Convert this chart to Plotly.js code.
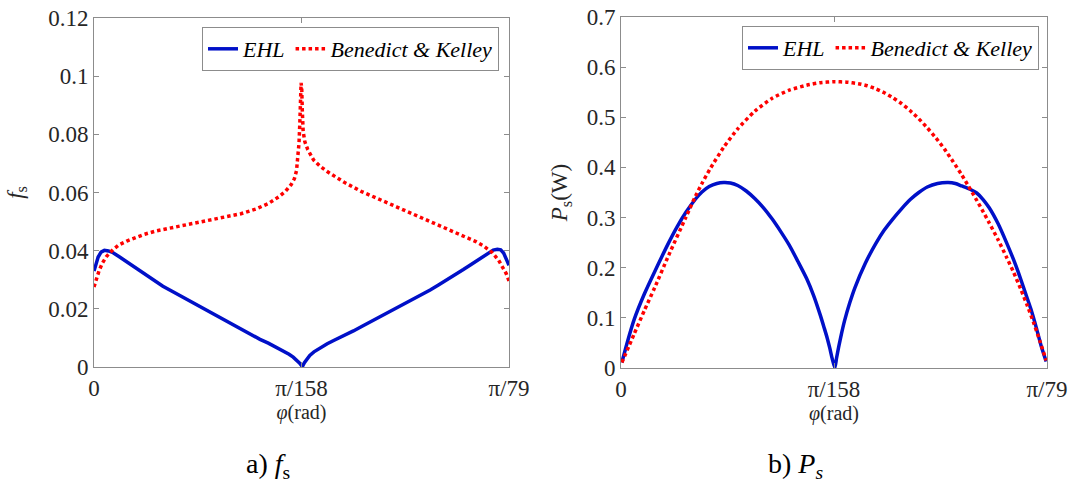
<!DOCTYPE html>
<html>
<head>
<meta charset="utf-8">
<script src="https://cdn.plot.ly/plotly-3.0.1.min.js"></script>
<style>html,body{margin:0;padding:0;background:#fff;}#chart{width:1071px;height:486px;}</style>
</head>
<body>
<div id="chart"></div>
<script>
// x positions as fraction of the range 0 .. π/79
const xTickVals = [0, 0.5, 1];
const xTickText = ['0', 'π/158', 'π/79'];

// (a) f_s
const fsEhlX = [0, 0.005, 0.01, 0.017, 0.025, 0.035, 0.046, 0.06, 0.079, 0.104, 0.125, 0.146, 0.166, 0.187, 0.21, 0.23, 0.25, 0.27, 0.29, 0.31, 0.33, 0.354, 0.375, 0.40, 0.42, 0.437, 0.455, 0.47, 0.48, 0.488, 0.495, 0.500, 0.503, 0.507, 0.513, 0.52, 0.53, 0.545, 0.562, 0.58, 0.603, 0.625, 0.645, 0.665, 0.686, 0.71, 0.73, 0.75, 0.77, 0.79, 0.81, 0.83, 0.853, 0.87, 0.89, 0.905, 0.919, 0.935, 0.95, 0.962, 0.972, 0.98, 0.987, 0.993, 0.998, 1];
const fsEhlY = [0.0330, 0.0355, 0.0378, 0.0395, 0.0401, 0.0399, 0.0393, 0.0380, 0.0362, 0.0336, 0.0315, 0.0296, 0.0278, 0.0261, 0.0243, 0.0228, 0.0213, 0.0198, 0.0182, 0.0165, 0.0149, 0.0129, 0.0113, 0.0095, 0.0082, 0.0070, 0.0057, 0.0044, 0.0034, 0.0025, 0.0014, 0.0005, 0.0004, 0.0015, 0.0029, 0.0040, 0.0052, 0.0066, 0.0080, 0.0093, 0.0108, 0.0124, 0.0139, 0.0154, 0.0170, 0.0187, 0.0202, 0.0217, 0.0233, 0.0249, 0.0265, 0.0282, 0.0301, 0.0317, 0.0335, 0.0349, 0.0362, 0.0378, 0.0393, 0.0402, 0.0405, 0.0403, 0.0392, 0.0375, 0.0358, 0.0350];
const fsBkX = [0, 0.005, 0.012, 0.02, 0.03, 0.046, 0.06, 0.079, 0.1, 0.121, 0.15, 0.187, 0.23, 0.27, 0.31, 0.354, 0.39, 0.42, 0.445, 0.462, 0.475, 0.483, 0.488, 0.491, 0.494, 0.496, 0.498, 0.499, 0.5005, 0.502, 0.504, 0.508, 0.515, 0.529, 0.545, 0.562, 0.58, 0.603, 0.645, 0.686, 0.73, 0.77, 0.81, 0.853, 0.89, 0.919, 0.94, 0.96, 0.975, 0.985, 0.993, 1];
const fsBkY = [0.0275, 0.0300, 0.0330, 0.0357, 0.0380, 0.0404, 0.0420, 0.0433, 0.0445, 0.0456, 0.0468, 0.0479, 0.0490, 0.0502, 0.0513, 0.0527, 0.0543, 0.0562, 0.0585, 0.0605, 0.0627, 0.0648, 0.0675, 0.0712, 0.0770, 0.0840, 0.0920, 0.0977, 0.0960, 0.0880, 0.0810, 0.0775, 0.0748, 0.0712, 0.0690, 0.0672, 0.0655, 0.0635, 0.0603, 0.0576, 0.0550, 0.0525, 0.0500, 0.0473, 0.0450, 0.0432, 0.0415, 0.0393, 0.0367, 0.0345, 0.0322, 0.0296];

// (b) P_s (W)
const psEhlX = [0.002, 0.015, 0.031, 0.055, 0.079, 0.112, 0.132, 0.152, 0.175, 0.19, 0.207, 0.225, 0.241, 0.257, 0.274, 0.294, 0.314, 0.335, 0.355, 0.375, 0.395, 0.415, 0.436, 0.452, 0.468, 0.477, 0.484, 0.49, 0.496, 0.502, 0.506, 0.511, 0.518, 0.525, 0.537, 0.549, 0.573, 0.598, 0.618, 0.638, 0.659, 0.679, 0.699, 0.719, 0.743, 0.768, 0.785, 0.80, 0.818, 0.835, 0.85, 0.864, 0.885, 0.905, 0.922, 0.938, 0.95, 0.962, 0.975, 0.986, 0.998];
const psEhlY = [0.011, 0.052, 0.097, 0.148, 0.192, 0.250, 0.282, 0.310, 0.337, 0.351, 0.362, 0.368, 0.370, 0.369, 0.364, 0.353, 0.338, 0.319, 0.297, 0.272, 0.245, 0.213, 0.178, 0.145, 0.105, 0.080, 0.060, 0.040, 0.018, 0.000, 0.020, 0.042, 0.070, 0.095, 0.130, 0.160, 0.208, 0.248, 0.275, 0.297, 0.318, 0.336, 0.350, 0.361, 0.368, 0.370, 0.368, 0.363, 0.357, 0.349, 0.336, 0.320, 0.288, 0.250, 0.215, 0.178, 0.148, 0.118, 0.080, 0.045, 0.013];
const psBkX = [0.002, 0.031, 0.055, 0.079, 0.112, 0.152, 0.175, 0.19, 0.209, 0.241, 0.274, 0.314, 0.355, 0.395, 0.436, 0.468, 0.50, 0.53, 0.557, 0.578, 0.598, 0.618, 0.638, 0.659, 0.679, 0.699, 0.719, 0.739, 0.759, 0.78, 0.80, 0.816, 0.832, 0.848, 0.864, 0.885, 0.905, 0.922, 0.938, 0.954, 0.97, 0.984, 0.998];
const psBkY = [0.011, 0.068, 0.115, 0.160, 0.225, 0.300, 0.343, 0.368, 0.397, 0.440, 0.477, 0.512, 0.538, 0.554, 0.564, 0.569, 0.571, 0.570, 0.567, 0.563, 0.557, 0.549, 0.539, 0.527, 0.513, 0.497, 0.479, 0.459, 0.437, 0.411, 0.385, 0.362, 0.339, 0.315, 0.290, 0.256, 0.221, 0.190, 0.158, 0.124, 0.087, 0.052, 0.015];

const seriesNames = ['EHL', 'Benedict &amp; Kelley'];
const blue = '#0010c8';
const red = '#ff0000';
const FONT = 'Liberation Serif';

const traces = [
  {x: fsEhlX, y: fsEhlY, xaxis: 'x', yaxis: 'y', mode: 'lines', name: seriesNames[0], legend: 'legend',
   line: {color: blue, width: 3.5}},
  {x: fsBkX, y: fsBkY, xaxis: 'x', yaxis: 'y', mode: 'lines', name: seriesNames[1], legend: 'legend',
   line: {color: red, width: 3.5, dash: '3.5px,3px'}},
  {x: psEhlX, y: psEhlY, xaxis: 'x2', yaxis: 'y2', mode: 'lines', name: seriesNames[0], legend: 'legend2',
   line: {color: blue, width: 3.5, shape: 'spline', smoothing: 0.6}},
  {x: psBkX, y: psBkY, xaxis: 'x2', yaxis: 'y2', mode: 'lines', name: seriesNames[1], legend: 'legend2',
   line: {color: red, width: 3.5, dash: '3.5px,3px', shape: 'spline', smoothing: 0.6}}
];

function axisCommon() {
  return {
    showline: true, mirror: 'ticks', linecolor: '#8c8c8c', linewidth: 1,
    ticks: 'inside', ticklen: 5, tickcolor: '#8c8c8c', tickwidth: 1,
    showgrid: false, zeroline: false, fixedrange: true,
    tickfont: {family: FONT, size: 23, color: '#262626'}
  };
}

const W = 1071, H = 486;
function px(x) { return x / W; }
function py(y) { return 1 - y / H; }

function legendCommon() {
  return {
    orientation: 'h', xanchor: 'right', yanchor: 'top',
    bgcolor: '#ffffff', bordercolor: '#8c8c8c', borderwidth: 1,
    font: {family: FONT, size: 22, color: '#000000', style: 'italic'},
    itemwidth: 30, tracegroupgap: 0
  };
}

const layout = {
  width: W, height: H,
  margin: {l: 0, r: 0, t: 0, b: 0},
  paper_bgcolor: '#ffffff', plot_bgcolor: '#ffffff',
  showlegend: true,
  font: {family: FONT, color: '#262626', size: 20},
  xaxis: Object.assign(axisCommon(), {
    domain: [px(94), px(509)], range: [0, 1], anchor: 'y',
    tickvals: xTickVals, ticktext: xTickText,
    title: {text: '<i>φ</i>(rad)', font: {family: FONT, size: 20, color: '#262626'}, standoff: 3}
  }),
  yaxis: Object.assign(axisCommon(), {
    domain: [py(367), py(18)], range: [0, 0.12], anchor: 'x',
    tickvals: [0, 0.02, 0.04, 0.06, 0.08, 0.1, 0.12],
    ticktext: ['0', '0.02', '0.04', '0.06', '0.08', '0.1', '0.12'],
    title: {text: '<i>f</i><sub>s</sub>', font: {family: FONT, size: 23, color: '#262626'}, standoff: 18}
  }),
  xaxis2: Object.assign(axisCommon(), {
    domain: [px(621), px(1047)], range: [0, 1], anchor: 'y2',
    tickvals: xTickVals, ticktext: xTickText,
    title: {text: '<i>φ</i>(rad)', font: {family: FONT, size: 20, color: '#262626'}, standoff: 3}
  }),
  yaxis2: Object.assign(axisCommon(), {
    domain: [py(368), py(17)], range: [0, 0.7], anchor: 'x2',
    tickvals: [0, 0.1, 0.2, 0.3, 0.4, 0.5, 0.6, 0.7],
    ticktext: ['0', '0.1', '0.2', '0.3', '0.4', '0.5', '0.6', '0.7'],
    title: {text: '<i>P</i><sub>s</sub>(W)', font: {family: FONT, size: 23, color: '#262626'}, standoff: 12}
  }),
  legend: Object.assign(legendCommon(), {x: px(499), y: py(27)}),
  legend2: Object.assign(legendCommon(), {x: px(1039), y: py(26)}),
  annotations: [
    {xref: 'paper', yref: 'paper', x: px(268), y: py(465), xanchor: 'center', yanchor: 'middle', showarrow: false,
     text: 'a) <i>f</i><sub>s</sub>', font: {family: FONT, size: 28, color: '#000000'}},
    {xref: 'paper', yref: 'paper', x: px(795), y: py(465), xanchor: 'center', yanchor: 'middle', showarrow: false,
     text: 'b) <i>P</i><sub><i>s</i></sub>', font: {family: FONT, size: 28, color: '#000000'}}
  ]
};

Plotly.newPlot('chart', traces, layout, {displayModeBar: false, staticPlot: true});
</script>
</body>
</html>
